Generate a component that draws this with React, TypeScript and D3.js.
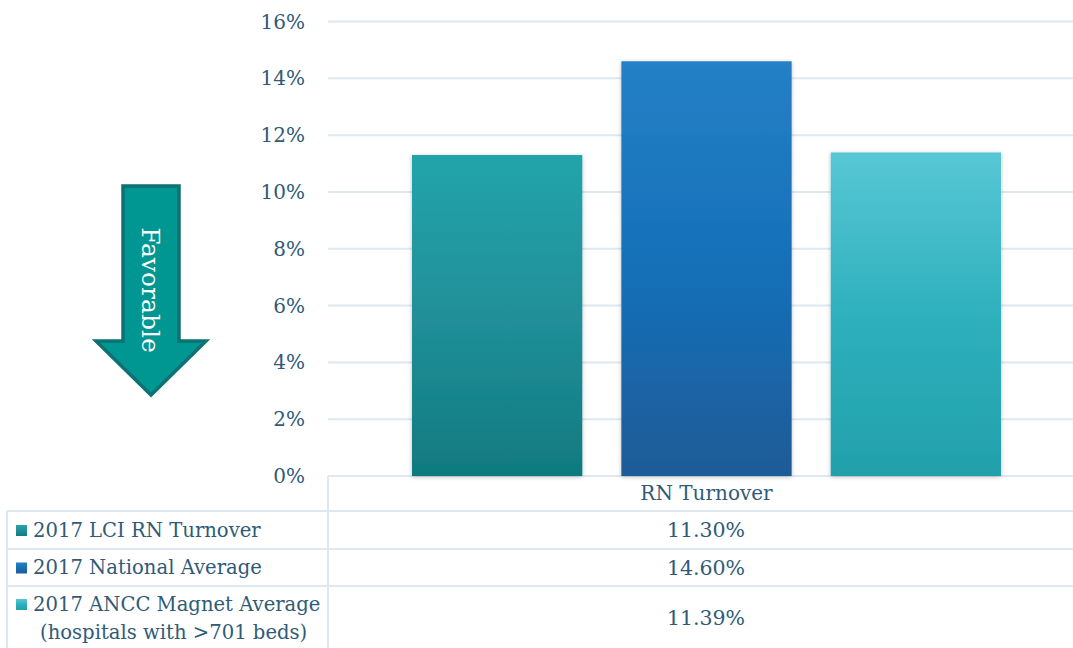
import React from "react";
import * as d3 from "d3";

const categories = ["RN Turnover"];
const seriesNames = [
  "2017 LCI RN Turnover",
  "2017 National Average",
  "2017 ANCC Magnet Average",
];
const seriesSubLabel = ["", "", "(hospitals with >701 beds)"];
const seriesValues = [11.3, 14.6, 11.39];
const valueLabels = ["11.30%", "14.60%", "11.39%"];
const yTicks = [0, 2, 4, 6, 8, 10, 12, 14, 16];
const gradients = [
  ["#24a4ab", "#218f98", "#107a80"],
  ["#2580c6", "#1570b8", "#1f5b97"],
  ["#58c7d5", "#2fb0bd", "#22a0aa"],
];

const W = 1073;
const H = 648;
const TEXT = "#2f5b78";
const GRID = "#dde8f1";
const FONT = "'DejaVu Serif', serif";

export default function App() {
  const plotLeft = 328;
  const plotRight = 1085;
  const y = d3.scaleLinear().domain([0, 16]).range([476, 21.5]);
  const xCat = d3.scaleBand().domain(categories).range([plotLeft, plotRight]).paddingInner(0).paddingOuter(0);
  const xSeries = d3
    .scaleBand<number>()
    .domain(seriesValues.map((_, i) => i))
    .range([412, 1001])
    .paddingInner(39 / 209)
    .paddingOuter(0);

  const rowTops = [511, 549, 586];
  const rowBottoms = [549, 586, 660];

  return (
    <div style={{ position: "fixed", left: 0, top: 0, width: W, height: H, background: "#fff" }}>
      <svg width={W} height={H} style={{ display: "block" }} fontFamily={FONT}>
        <defs>
          {gradients.map((g, i) => (
            <linearGradient key={i} id={`g${i}`} x1="0" y1="0" x2="0" y2="1">
              <stop offset="0%" stopColor={g[0]} />
              <stop offset="50%" stopColor={g[1]} />
              <stop offset="100%" stopColor={g[2]} />
            </linearGradient>
          ))}
          <filter id="shadow" x="-10%" y="-10%" width="120%" height="120%">
            <feDropShadow dx="0" dy="1" stdDeviation="2" floodColor="#000" floodOpacity="0.25" />
          </filter>
        </defs>

        {/* gridlines */}
        {yTicks.map((t) => (
          <g key={t}>
            <line x1={plotLeft} x2={W} y1={y(t)} y2={y(t)} stroke={GRID} strokeWidth={2} />
            <text x={305} y={y(t)} dy="0.35em" textAnchor="end" fontSize={20} fill={TEXT}>
              {t}%
            </text>
          </g>
        ))}

        {/* bars */}
        {seriesValues.map((v, i) => (
          <rect
            key={i}
            x={xSeries(i)}
            y={y(v)}
            width={xSeries.bandwidth()}
            height={y(0) - y(v)}
            fill={`url(#g${i})`}
            filter="url(#shadow)"
          />
        ))}

        {/* table */}
        <line x1={plotLeft} x2={plotLeft} y1={476} y2={H} stroke={GRID} strokeWidth={2} />
        {rowTops.map((t, i) => (
          <line key={i} x1={7} x2={W} y1={t} y2={t} stroke={GRID} strokeWidth={2} />
        ))}
        <line x1={7} x2={7} y1={511} y2={H} stroke={GRID} strokeWidth={2} />
        {categories.map((c) => (
          <text key={c} x={(xCat(c) ?? 0) + xCat.bandwidth() / 2} y={493} dy="0.35em" textAnchor="middle" fontSize={20} fill={TEXT}>
            {c}
          </text>
        ))}
        {seriesNames.map((n, i) => {
          const two = seriesSubLabel[i] !== "";
          const cy = two ? rowTops[i] + 18 : (rowTops[i] + rowBottoms[i]) / 2;
          return (
            <g key={n}>
              <rect x={16} y={cy - 5} width={11} height={11} fill={`url(#g${i})`} />
              <text x={33} y={cy} dy="0.35em" fontSize={19.6} fill={TEXT}>
                {n}
              </text>
              {two && (
                <text x={40} y={cy + 28} dy="0.35em" fontSize={19.6} fill={TEXT}>
                  {seriesSubLabel[i]}
                </text>
              )}
              <text x={706} y={two ? 618 : cy} dy="0.35em" textAnchor="middle" fontSize={20.5} fill={TEXT}>
                {valueLabels[i]}
              </text>
            </g>
          );
        })}

        {/* favorable arrow */}
        <path
          d="M123,186 L179,186 L179,341 L206,341 L151,395 L96,341 L123,341 Z"
          fill="#009692"
          stroke="#0c7273"
          strokeWidth={3.5}
          strokeLinejoin="miter"
        />
        <text
          transform="translate(151,290) rotate(90)"
          textAnchor="middle"
          dy="0.35em"
          fontSize={25}
          fill="#ffffff"
        >
          Favorable
        </text>
      </svg>
    </div>
  );
}
